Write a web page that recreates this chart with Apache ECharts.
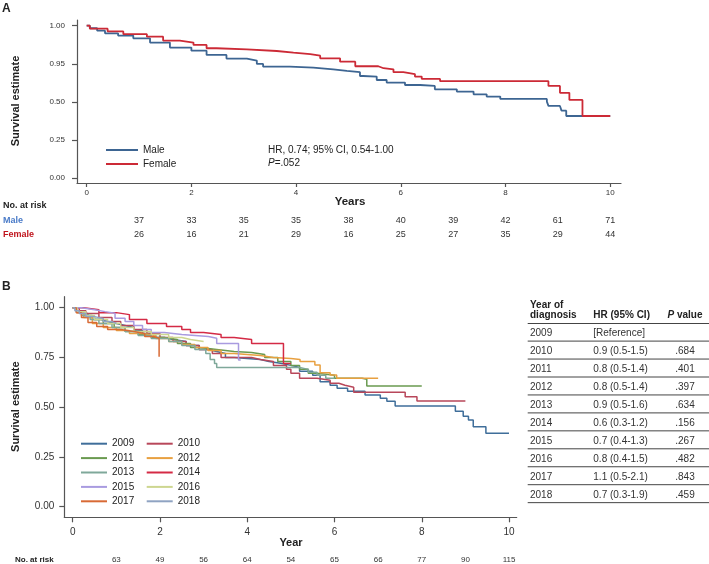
<!DOCTYPE html>
<html><head><meta charset="utf-8">
<script src="https://cdn.jsdelivr.net/npm/echarts@6/dist/echarts.min.js"></script>
<style>html,body{margin:0;padding:0;background:#fff}#c{width:709px;height:564px}</style>
</head><body><div id="c"></div>
<script>
const FONT = '"Liberation Sans", Arial, Helvetica, sans-serif';

// ---------- Panel A data ----------
const male = [[0,1],[0.06,0.983],[0.2,0.967],[0.35,0.95],[0.6,0.935],[0.89,0.917],[1.21,0.889],[1.59,0.856],[2.0,0.836],[2.29,0.808],[2.67,0.784],[3.06,0.771],[3.25,0.749],[3.37,0.731],[3.88,0.725],[4.33,0.714],[4.71,0.703],[4.97,0.695],[5.22,0.67],[5.28,0.666],[5.54,0.644],[5.73,0.627],[6.08,0.611],[6.37,0.605],[6.65,0.583],[7.07,0.568],[7.39,0.55],[7.64,0.535],[7.9,0.52],[8.79,0.502],[8.82,0.474],[9.04,0.465],[9.07,0.443],[9.16,0.408],[10,0.408]];
const female = [[0,1],[0.06,0.98],[0.4,0.962],[0.7,0.944],[1.15,0.928],[1.46,0.902],[1.78,0.889],[2.04,0.874],[2.29,0.852],[2.48,0.845],[3.06,0.834],[3.63,0.823],[3.95,0.813],[4.27,0.803],[4.46,0.786],[4.84,0.764],[5.13,0.734],[5.57,0.721],[5.67,0.714],[5.86,0.695],[6.05,0.683],[6.27,0.666],[6.4,0.651],[6.75,0.636],[8.82,0.605],[9.04,0.56],[9.22,0.513],[9.47,0.408],[10,0.408]];
const xTicksA = [0,2,4,6,8,10];
const yTicksA = [0,0.25,0.5,0.75,1];
const yTickLabelsA = ['0.00','0.25','0.50','0.95','1.00'];
const atRiskYearsA = [1,2,3,4,5,6,7,8,9,10];
const atRiskMale = [37,33,35,35,38,40,39,42,61,71];
const atRiskFemale = [26,16,21,29,16,25,27,35,29,44];

// ---------- Panel B data ----------
const yearNames = ['2009','2010','2011','2012','2013','2014','2015','2016','2017','2018'];
const y2009 = [[0,1],[0.1,0.985],[0.2,0.97],[0.35,0.955],[0.5,0.94],[0.65,0.93],[0.8,0.92],[1.0,0.91],[1.2,0.9],[1.4,0.885],[1.6,0.87],[1.9,0.85],[2.1,0.84],[2.3,0.83],[2.6,0.81],[2.9,0.79],[3.1,0.78],[3.3,0.77],[3.5,0.75],[3.7,0.74],[4.3,0.73],[4.5,0.72],[4.8,0.71],[5.0,0.7],[5.2,0.68],[5.5,0.66],[5.67,0.628],[5.9,0.61],[6.06,0.595],[6.3,0.58],[6.7,0.561],[7.05,0.545],[7.2,0.53],[7.39,0.506],[8.77,0.48],[8.95,0.455],[9.07,0.436],[9.18,0.402],[9.47,0.369],[10,0.369]];
const y2010 = [[0,1],[0.15,0.985],[0.3,0.97],[0.6,0.95],[0.9,0.93],[1.1,0.91],[1.4,0.89],[1.7,0.87],[2.0,0.85],[2.3,0.83],[2.6,0.81],[2.9,0.79],[3.2,0.77],[3.4,0.75],[4.1,0.74],[4.3,0.73],[4.6,0.71],[4.9,0.69],[5.0,0.67],[5.2,0.645],[5.6,0.635],[5.9,0.62],[6.1,0.61],[6.24,0.6],[6.44,0.575],[7.62,0.553],[7.89,0.531],[9.0,0.531]];
const y2011 = [[0,1],[0.1,0.98],[0.25,0.96],[0.45,0.94],[0.7,0.92],[0.95,0.9],[1.2,0.88],[1.5,0.865],[1.8,0.85],[2.1,0.84],[2.4,0.82],[2.7,0.8],[2.9,0.79],[3.3,0.78],[3.7,0.775],[4.1,0.765],[4.4,0.75],[4.7,0.73],[5.0,0.71],[5.2,0.69],[5.4,0.67],[5.6,0.66],[6.0,0.645],[6.63,0.64],[6.74,0.607],[8.0,0.607]];
const y2012 = [[0,1],[0.1,0.975],[0.25,0.95],[0.45,0.92],[0.7,0.9],[1.0,0.885],[1.3,0.87],[1.6,0.86],[1.9,0.845],[2.2,0.83],[2.5,0.815],[2.8,0.8],[3.1,0.785],[3.4,0.77],[3.7,0.76],[4.3,0.75],[4.6,0.745],[5.0,0.74],[5.21,0.729],[5.55,0.712],[5.67,0.673],[5.9,0.662],[6.05,0.645],[7.0,0.645]];
const y2013 = [[0,1],[0.08,0.98],[0.2,0.96],[0.4,0.94],[0.6,0.92],[0.9,0.9],[1.2,0.88],[1.5,0.86],[1.8,0.845],[2.2,0.83],[2.5,0.81],[2.8,0.79],[3.05,0.77],[3.15,0.74],[3.25,0.72],[3.3,0.7],[5.2,0.69],[5.4,0.675],[5.6,0.66],[5.8,0.645],[6.0,0.645]];
const y2014 = [[0,1],[0.25,0.99],[0.6,0.975],[1.0,0.965],[1.3,0.94],[1.7,0.92],[2.15,0.905],[2.5,0.89],[2.7,0.875],[3.0,0.865],[3.4,0.85],[3.7,0.84],[4.1,0.82],[4.83,0.72],[5.0,0.72]];
const y2015 = [[0,1],[0.2,0.99],[0.5,0.98],[0.74,0.972],[0.97,0.947],[1.2,0.93],[1.4,0.91],[1.6,0.89],[1.8,0.875],[2.1,0.865],[2.5,0.855],[3.11,0.846],[3.3,0.82],[3.8,0.737],[3.85,0.737]];
const y2016 = [[0,1],[0.1,0.98],[0.3,0.96],[0.5,0.94],[0.8,0.92],[1.1,0.9],[1.4,0.88],[1.8,0.865],[2.2,0.85],[2.5,0.84],[2.7,0.83],[3.0,0.83]];
const y2017 = [[0,1],[0.08,0.975],[0.2,0.95],[0.35,0.925],[0.55,0.905],[0.8,0.89],[1.1,0.88],[1.4,0.87],[1.65,0.855],[1.85,0.846],[1.98,0.754],[1.99,0.754]];
const y2018 = [[0,1],[0.05,0.985],[0.15,0.97],[0.3,0.955],[0.5,0.945],[0.7,0.93],[0.9,0.92],[1.0,0.92]];
const seriesB = [y2009,y2010,y2011,y2012,y2013,y2014,y2015,y2016,y2017,y2018];
const xTicksB = [0,2,4,6,8,10];
const yTicksB = [0,0.25,0.5,0.75,1];
const atRiskYearsB = [1,2,3,4,5,6,7,8,9,10];
const atRiskB = [63,49,56,64,54,65,66,77,90,115];

// Table
const tblYears = ['2009','2010','2011','2012','2013','2014','2015','2016','2017','2018'];
const tblHR = ['[Reference]','0.9 (0.5-1.5)','0.8 (0.5-1.4)','0.8 (0.5-1.4)','0.9 (0.5-1.6)','0.6 (0.3-1.2)','0.7 (0.4-1.3)','0.8 (0.4-1.5)','1.1 (0.5-2.1)','0.7 (0.3-1.9)'];
const tblP = ['','.684','.401','.397','.634','.156','.267','.482','.843','.459'];

// ---------- styles ----------
const colA = {Male:'#3d6592', Female:'#cc2a36'};
const colB = ['#3f6e9a','#b8475a','#6a9a50','#e8a040','#7fa89a','#d42a45','#a99be0','#cdd690','#d86a35','#8fa3c2'];
const AX = '#555';

const chart = echarts.init(document.getElementById('c'), null, {renderer:'canvas'});

function axisCommon(ticks, fs, margin, tickLen, fmt){
  return {
    type:'value', splitLine:{show:false},
    axisLine:{show:true, onZero:false, lineStyle:{color:AX, width:1.2}},
    axisTick:{show:true, customValues:ticks, length:tickLen, lineStyle:{color:AX, width:1.2}},
    axisLabel:{customValues:ticks, fontSize:fs, color:'#333', fontFamily:FONT, margin:margin, formatter:fmt}
  };
}

const series = [
  {name:'Male', type:'line', step:'end', xAxisIndex:0, yAxisIndex:0, data:male, symbol:'none', color:colA.Male, lineStyle:{width:1.8}},
  {name:'Female', type:'line', step:'end', xAxisIndex:0, yAxisIndex:0, data:female, symbol:'none', color:colA.Female, lineStyle:{width:1.8}}
];
seriesB.forEach((d,i)=>series.push({name:yearNames[i], type:'line', step:'end', xAxisIndex:1, yAxisIndex:1, data:d, symbol:'none', color:colB[i], lineStyle:{width:1.5}}));

const legendBase = {orient:'vertical', icon:'rect', itemHeight:2, padding:0, textStyle:{fontSize:10, fontFamily:FONT, color:'#222', lineHeight:13}, selectedMode:false};

chart.setOption({
  animation:false,
  backgroundColor:'#fff',
  grid:[
    {left:77, top:20, width:544, height:163},
    {left:64.3, top:296.7, width:452.4, height:220.6}
  ],
  xAxis:[
    Object.assign(axisCommon(xTicksA, 8, 6, 4, v=>String(v)), {gridIndex:0, min:-0.185, max:10.206}),
    Object.assign(axisCommon(xTicksB, 10, 10, 5, v=>String(v)), {gridIndex:1, min:-0.193, max:10.176})
  ],
  yAxis:[
    Object.assign(axisCommon(yTicksA, 8, 12, 5, v=>yTickLabelsA[yTicksA.indexOf(v)]), {gridIndex:0, min:-0.031, max:1.037}),
    Object.assign(axisCommon(yTicksB, 10, 10, 5, v=>v.toFixed(2)), {gridIndex:1, min:-0.053, max:1.055})
  ],
  legend:[
    Object.assign({}, legendBase, {data:['Male','Female'], left:106, top:143.5, itemWidth:32, itemGap:1}),
    Object.assign({}, legendBase, {data:['2009','2011','2013','2015','2017'], left:81, top:437.2, itemWidth:26, itemGap:1.4}),
    Object.assign({}, legendBase, {data:['2010','2012','2014','2016','2018'], left:146.7, top:437.2, itemWidth:26, itemGap:1.4})
  ],
  series:series
});

// ---------- text annotations ----------
const g = [];
function txt(x,y,text,o){
  o = o||{};
  g.push({type:'text', x:x, y:y, rotation:o.rot||0, silent:true, style:{text:text, fontFamily:FONT, fontSize:o.fs||10, fontWeight:o.fw||'normal', fill:o.c||'#222', align:o.align||'left', verticalAlign:'middle', rich:o.rich}});
}
txt(2,9,'A',{fs:12,fw:'bold'});
txt(2,287,'B',{fs:12,fw:'bold'});
txt(16,101,'Survival estimate',{fs:11,fw:'bold',rot:Math.PI/2,align:'center'});
txt(16,406.7,'Survival estimate',{fs:11,fw:'bold',rot:Math.PI/2,align:'center'});
txt(350,202,'Years',{fs:11.5,fw:'bold',align:'center'});
txt(291,543,'Year',{fs:11,fw:'bold',align:'center'});
txt(268,150,'HR, 0.74; 95% CI, 0.54-1.00',{fs:10});
txt(268,163,'{i|P}=.052',{fs:10, rich:{i:{fontStyle:'italic', fontSize:10, fontFamily:FONT, fill:'#222'}}});
txt(3,206,'No. at risk',{fs:9,fw:'bold'});
txt(3,221,'Male',{fs:9,fw:'bold',c:'#4a7bc8'});
txt(3,235,'Female',{fs:9,fw:'bold',c:'#c0141c'});
atRiskYearsA.forEach((yr,i)=>{
  const px = chart.convertToPixel({xAxisIndex:0}, yr);
  txt(px,221,String(atRiskMale[i]),{fs:9,align:'center',c:'#333'});
  txt(px,235,String(atRiskFemale[i]),{fs:9,align:'center',c:'#333'});
});
txt(15,560,'No. at risk',{fs:8,fw:'bold'});
atRiskYearsB.forEach((yr,i)=>{
  const px = chart.convertToPixel({xAxisIndex:1}, yr);
  txt(px,560,String(atRiskB[i]),{fs:8,align:'center',c:'#333'});
});
// table
const tx0 = 527.7, tx1 = 709, c1 = 530, c2 = 593.3, c3 = 685;
txt(c1,305,'Year of',{fs:10,fw:'bold'});
txt(c1,315.5,'diagnosis',{fs:10,fw:'bold'});
txt(c2,315.5,'HR (95% CI)',{fs:10,fw:'bold'});
txt(c3,315.5,'{i|P} value',{fs:10,fw:'bold',align:'center',rich:{i:{fontStyle:'italic',fontWeight:'bold',fontSize:10,fontFamily:FONT,fill:'#222'}}});
const rowH = 17.95, row0 = 333.3;
g.push({type:'line', silent:true, shape:{x1:tx0,y1:323.5,x2:tx1,y2:323.5}, style:{stroke:'#444', lineWidth:1}});
tblYears.forEach((yv,i)=>{
  const y = row0 + i*rowH;
  txt(c1,y,yv,{fs:10,c:'#333'});
  txt(c2,y,tblHR[i],{fs:10,c:'#333'});
  if (tblP[i]) txt(c3,y,tblP[i],{fs:10,c:'#333',align:'center'});
  g.push({type:'line', silent:true, shape:{x1:tx0,y1:y+7.8,x2:tx1,y2:y+7.8}, style:{stroke:'#444', lineWidth:1}});
});
chart.setOption({graphic:g});
</script>
</body></html>
